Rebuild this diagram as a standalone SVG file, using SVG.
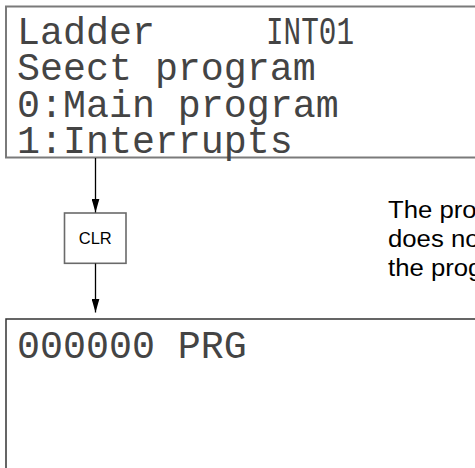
<svg xmlns="http://www.w3.org/2000/svg" width="475" height="468" viewBox="0 0 475 468">
<defs>
<style>
.lcd{font-family:"Liberation Mono","DejaVu Sans Mono",monospace;font-size:38.3px;fill:#444;}
.lbl{font-family:"Liberation Sans",Arial,sans-serif;fill:#000;}
.note{font-size:24.5px;}
.conn{stroke:#000;stroke-width:1.3;fill:none;}
</style>
<marker id="ah" viewBox="0 0 14 8" refX="14" refY="4" markerWidth="14" markerHeight="8" markerUnits="userSpaceOnUse" orient="auto">
<path d="M0,0 L14,4 L0,8 Z" fill="#000"/>
</marker>
</defs>
<rect width="475" height="468" fill="#fff"/>
<g id="display-top">
<rect x="6" y="6.5" width="480" height="151" fill="#fff" stroke="#7a7a7a" stroke-width="2"/>
<text class="lcd" x="17" y="44">Ladder</text>
<text class="lcd" x="266" y="44" textLength="88" lengthAdjust="spacingAndGlyphs">INT01</text>
<text class="lcd" x="17" y="80">Seect program</text>
<text class="lcd" x="17" y="116.5">0:Main program</text>
<text class="lcd" x="17" y="152.5">1:Interrupts</text>
</g>
<g id="clr-key">
<rect x="64.5" y="213" width="61.5" height="50.3" fill="#fff" stroke="#6a6a6a" stroke-width="1.6"/>
<text class="lbl" x="95.3" y="244" font-size="16.5" text-anchor="middle">CLR</text>
</g>
<g id="note">
<text class="lbl note" transform="translate(388,218) scale(1.05,1)">The pro</text>
<text class="lbl note" transform="translate(388,247) scale(1.05,1)">does no</text>
<text class="lbl note" transform="translate(388,276) scale(1.05,1)">the prog</text>
</g>
<g id="display-bottom">
<rect x="6" y="319" width="480" height="160" fill="#fff" stroke="#333" stroke-width="1.5"/>
<text class="lcd" x="17" y="358">000000 PRG</text>
</g>
<g id="connectors">
<line class="conn" x1="95.5" y1="158" x2="95.5" y2="212.5" marker-end="url(#ah)"/>
<line class="conn" x1="95.5" y1="263.5" x2="95.5" y2="312.5" marker-end="url(#ah)"/>
</g>
</svg>
